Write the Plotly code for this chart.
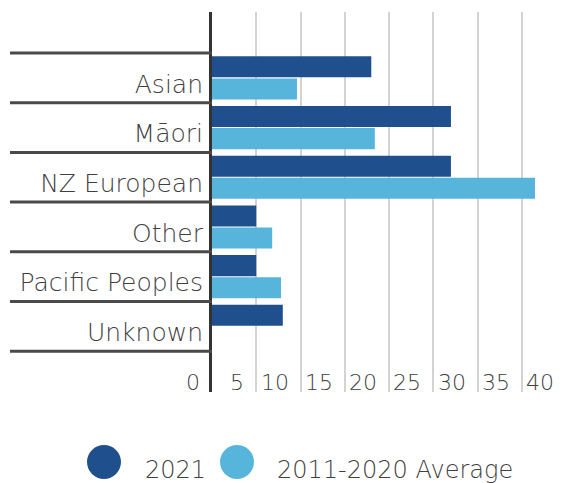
import plotly.graph_objects as go

# Drowning deaths by ethnicity
categories = ["Asian", "Māori", "NZ European", "Other", "Pacific Peoples", "Unknown"]
deaths_2021 = [18, 27, 27, 5, 5, 8]
avg_2011_2020 = [9.6, 18.4, 36.5, 6.8, 7.8, 0]
tick_values = [0, 5, 10, 15, 20, 25, 30, 35, 40]
tick_labels = ["0", "5", "10", "15", "20", "25", "30", "35", "40"]
series_names = ["2021", "2011-2020 Average"]

DARK = "#1f508d"
LIGHT = "#57b5dc"
TEXT = "#3f3f3f"
FONT = "DejaVu Sans"
WEIGHT = 300

W, H = 566, 483
L, R, T, B = 212, 0, 12, 91
plot_w = W - L - R
plot_h = H - T - B

def px_x(px):
    return (px - L) / plot_w

def px_y(py):
    return (H - B - py) / plot_h

def font(size):
    return dict(family=FONT, size=size, color=TEXT, weight=WEIGHT)

fig = go.Figure()
fig.add_trace(go.Bar(y=categories, x=deaths_2021, orientation="h", name=series_names[0],
                     marker=dict(color=DARK, line=dict(width=0)), showlegend=False))
fig.add_trace(go.Bar(y=categories, x=avg_2011_2020, orientation="h", name=series_names[1],
                     marker=dict(color=LIGHT, line=dict(width=0)), showlegend=False))

shapes = []
# separators between category rows, running across the label column
for i in range(len(categories) + 1):
    shapes.append(dict(type="line", xref="paper", yref="y",
                       x0=px_x(10), x1=0, y0=i - 0.5, y1=i - 0.5,
                       line=dict(color="#4a4a4a", width=3), layer="above"))

# legend: large dots with labels
legend_y = px_y(462)
for cx, color in ((104, DARK), (237, LIGHT)):
    shapes.append(dict(type="circle", xref="paper", yref="paper",
                       xsizemode="pixel", ysizemode="pixel",
                       xanchor=px_x(cx), yanchor=legend_y,
                       x0=-17, x1=17, y0=-17, y1=17,
                       fillcolor=color, line=dict(width=0)))

annotations = [
    dict(text=series_names[0], xref="paper", yref="paper", x=px_x(143), y=px_y(470),
         xanchor="left", yanchor="middle", showarrow=False, font=font(24)),
    dict(text=series_names[1], xref="paper", yref="paper", x=px_x(275), y=px_y(470),
         xanchor="left", yanchor="middle", showarrow=False, font=font(24)),
]

# value labels along the bottom, sitting just left of each grid line
for v, lab in zip(tick_values, tick_labels):
    annotations.append(dict(text=lab, xref="x", yref="paper", x=v, y=px_y(382),
                            xanchor="right", yanchor="middle", xshift=-10,
                            showarrow=False, font=font(22)))

fig.update_layout(
    width=W, height=H,
    margin=dict(l=L, r=R, t=T, b=B, pad=0),
    paper_bgcolor="white", plot_bgcolor="white",
    barmode="group", bargap=0.11, bargroupgap=0.05,
    shapes=shapes, annotations=annotations,
    font=font(22),
)
fig.update_xaxes(
    range=[0, 40], tickvals=tick_values, showticklabels=False,
    showgrid=True, gridcolor="#d3d3d3", gridwidth=2,
    zeroline=False, showline=False, ticks="",
)
fig.update_yaxes(
    range=[6.32, -1.325], showgrid=False, zeroline=False,
    showline=True, linecolor="#333333", linewidth=3, ticks="",
    ticklabelstandoff=1, ticklabelshift=-6,
    tickfont=font(25),
)

fig.write_html("out.html")
